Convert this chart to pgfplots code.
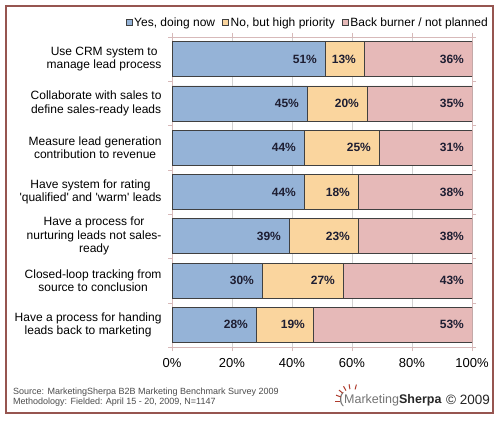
\documentclass[border=0pt]{standalone}
\usepackage{pgfplots}
\pgfplotsset{compat=1.18}
\usepackage{pgfplotstable}
\usetikzlibrary{calc}
\usepackage{fontspec}
\setmainfont{Liberation Sans}
\definecolor{yesc}{RGB}{149,179,215}
\definecolor{noc}{RGB}{250,213,158}
\definecolor{backc}{RGB}{230,185,184}
\definecolor{frame}{RGB}{150,85,80}
\definecolor{axc}{RGB}{215,185,185}
\definecolor{lbl}{RGB}{30,30,50}
\definecolor{ray}{RGB}{175,60,45}
\pgfplotstableread{
idx yes no back
0 51 13 36
1 45 20 35
2 44 25 31
3 44 18 38
4 39 23 38
5 30 27 43
6 28 19 53
}\data
\begin{document}
\begin{tikzpicture}
\useasboundingbox (0pt,0pt) rectangle (500pt,420pt);
\fill[white] (0pt,0pt) rectangle (500pt,420pt);
\draw[frame, line width=1.8pt] (6pt,7pt) rectangle (493pt,414pt);
\begin{axis}[
  at={(172pt,73pt)}, anchor=south west, scale only axis,
  width=300pt, height=310pt,
  xbar stacked, bar width=35pt,
  xmin=0, xmax=100, ymin=-0.5, ymax=6.5, y dir=reverse,
  xtick={0,20,...,100},
  xticklabel={\pgfmathprintnumber{\tick}\%},
  /pgf/number format/assume math mode=true,
  xticklabel style={font=\fontsize{13}{15}\selectfont, yshift=-4pt},
  ytick={0,...,6},
  yticklabels={
    {Use CRM system to\\manage lead process},
    {Collaborate with sales to\\define sales-ready leads},
    {Measure lead generation\\contribution to revenue},
    {Have system for rating\\\textquotesingle qualified\textquotesingle\ and \textquotesingle warm\textquotesingle\ leads},
    {Have a process for\\nurturing leads not sales-\\ready},
    {Closed-loop tracking from\\source to conclusion},
    {Have a process for handing\\leads back to marketing}},
  yticklabel style={align=center, font=\fontsize{12}{13.5}\selectfont, xshift=-3pt},
  major y tick style={draw=none},
  minor ytick={-0.5,0.5,...,6.5},
  minor y tick style={draw=axc},
  tick align=outside,
  major tick length=4pt, minor tick length=4pt,
  x tick style={draw=axc},
  xmajorgrids, major x grid style={draw=gray!35},
  axis line style={draw=axc},
  point meta=explicit,
  visualization depends on=rawx \as \segw,
  nodes near coords={\pgfmathprintnumber{\pgfplotspointmeta}\%},
  every node near coord/.append style={anchor=east, xshift={\segw*1.5pt-4.5pt},
     font=\bfseries\fontsize{12}{14}\selectfont, text=lbl},
  legend columns=3,
  legend style={at={(1.06,1.047)}, anchor=east, draw=none, fill=none,
     inner sep=0pt, font=\fontsize{12}{14}\selectfont,
     /tikz/every even column/.append style={column sep=5pt}},
  legend cell align=left,
  legend image code/.code={\draw[#1] (0pt,-3pt) rectangle (6pt,3pt);},
]
\addplot[fill=yesc, draw=black!75, line width=0.6pt]
  table[x=yes, y=idx, meta=yes]{\data};
\addplot[fill=noc, draw=black!75, line width=0.6pt]
  table[x=no, y=idx, meta=no]{\data};
\addplot[fill=backc, draw=black!75, line width=0.6pt]
  table[x=back, y=idx, meta=back]{\data};
\legend{{Yes, doing now}, {No, but high priority}, {Back burner / not planned}}
\end{axis}
\node[anchor=west, inner sep=0pt, text=black!70, font=\fontsize{9}{10}\selectfont] at (13pt,27.5pt) {Source: MarketingSherpa B2B Marketing Benchmark Survey 2009};
\node[anchor=west, inner sep=0pt, text=black!70, font=\fontsize{9}{10}\selectfont] at (13pt,17.5pt) {Methodology: Fielded: April 15 - 20, 2009, N=1147};
% logo
\node[anchor=west, inner sep=0pt, font=\fontsize{12.5}{15}\selectfont] at (339pt,20.5pt) {\textcolor{black!55}{{\fontsize{15}{15}\selectfont(}Marketing}\textcolor{black!85}{\bfseries Sherpa}};
\node[anchor=east, inner sep=0pt, font=\fontsize{13.5}{16}\selectfont, text=black!85] at (490pt,20.5pt) {© 2009};
\foreach \a in {100,120,140,160,180,75}{
  \draw[ray, line width=1pt] ($(352pt,19pt)+(\a:12pt)$) -- ($(352pt,19pt)+(\a:17pt)$);
}
\end{tikzpicture}
\end{document}
